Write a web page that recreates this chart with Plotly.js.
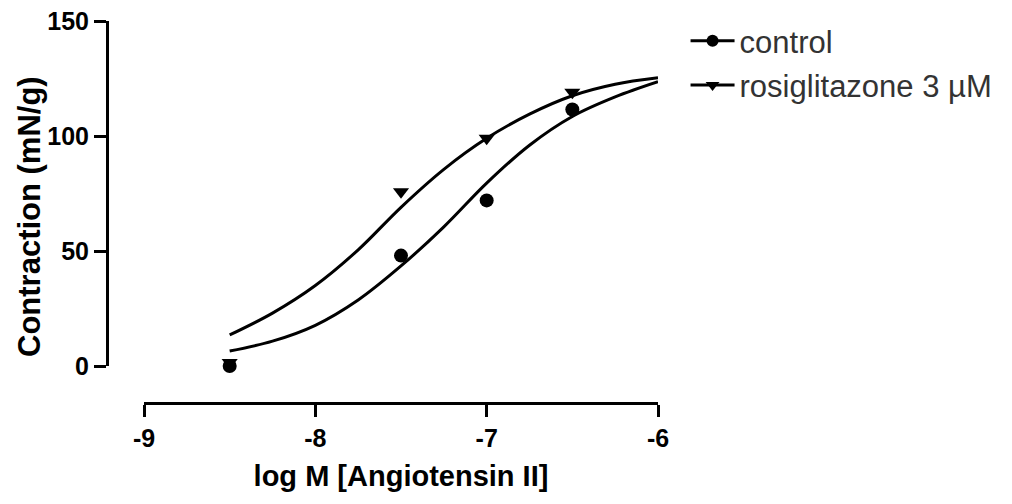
<!DOCTYPE html>
<html>
<head>
<meta charset="utf-8">
<script src="https://cdn.plot.ly/plotly-3.0.1.min.js"></script>
<style>html,body{margin:0;padding:0;background:#fff;}#chart{width:1012px;height:504px;}</style>
</head>
<body>
<div id="chart"></div>
<script>
// Measured data points (log M of Angiotensin II vs contraction, mN/g)
const doseLog = [-8.5, -7.5, -7.0, -6.5];
const controlResp = [0, 48, 72, 111.5];
const rosiResp = [1.5, 75.8, 99, 119];

// Fitted curves
const fitX = [-8.5, -8.25, -8.0, -7.75, -7.5, -7.25, -7.0, -6.75, -6.5, -6.25, -6.0];
const controlFit = [6.5, 10.8, 17.7, 28.7, 43.5, 60.5, 79.5, 96, 108.5, 117, 123.6];
const rosiFit = [13.5, 23, 35, 50.5, 69, 85.5, 99, 109.5, 117.5, 122.5, 125.3];

const seriesNames = ['control', 'rosiglitazone 3 \u00b5M'];
const xTicks = [-9, -8, -7, -6];
const yTicks = [0, 50, 100, 150];
const xTitle = 'log M [Angiotensin II]';
const yTitle = 'Contraction (mN/g)';

const FONT = 'Liberation Sans, Arial, sans-serif';
const lineStyle = {color: '#000', width: 3, shape: 'spline', smoothing: 1};

const traces = [
  {x: fitX, y: controlFit, mode: 'lines', line: lineStyle, showlegend: false, cliponaxis: false, hoverinfo: 'skip'},
  {x: fitX, y: rosiFit, mode: 'lines', line: lineStyle, showlegend: false, cliponaxis: false, hoverinfo: 'skip'},
  {x: doseLog, y: rosiResp, mode: 'markers', marker: {symbol: 'triangle-down', size: 14, color: '#000'}, showlegend: false, cliponaxis: false},
  {x: doseLog, y: controlResp, mode: 'markers', marker: {symbol: 'circle', size: 14, color: '#000'}, showlegend: false, cliponaxis: false},
  {x: [null], y: [null], name: seriesNames[0], mode: 'lines+markers', line: {color: '#000', width: 3}, marker: {symbol: 'circle', size: 12, color: '#000'}, legendgroup: 'a'},
  {x: [null], y: [null], name: seriesNames[1], mode: 'lines+markers', line: {color: '#000', width: 3}, marker: {symbol: 'triangle-down', size: 12, color: '#000'}, legendgroup: 'b'}
];

const axisCommon = {
  showline: true, linecolor: '#000', linewidth: 3,
  ticks: 'outside', ticklen: 12, tickwidth: 3, tickcolor: '#000',
  showgrid: false, zeroline: false, anchor: 'free', position: 0,
  tickfont: {family: FONT, size: 25, color: '#000', weight: 'bold'},
  fixedrange: true
};

const layout = {
  width: 1012, height: 504,
  margin: {l: 107, r: 354, t: 21, b: 101, pad: 0},
  paper_bgcolor: '#fff', plot_bgcolor: '#fff',
  showlegend: true,
  xaxis: Object.assign({}, axisCommon, {
    domain: [37 / 551, 1], range: [-9, -6], tickmode: 'array', tickvals: xTicks, ticktext: xTicks.map(String),
    title: {text: xTitle, font: {family: FONT, size: 29, color: '#000', weight: 'bold'}, standoff: 14}
  }),
  yaxis: Object.assign({}, axisCommon, {
    domain: [37 / 382, 1], range: [0, 150], tickmode: 'array', tickvals: yTicks, ticktext: yTicks.map(String)
  }),
  annotations: [{
    text: yTitle, textangle: -90, showarrow: false,
    xref: 'paper', yref: 'paper', x: (29 - 107) / 551, y: (403 - 217) / 382,
    xanchor: 'center', yanchor: 'middle',
    font: {family: FONT, size: 31, color: '#000', weight: 'bold'}
  }],
  legend: {
    x: 1.050, y: 1.018, xanchor: 'left', yanchor: 'top',
    font: {family: FONT, size: 31, color: '#333'},
    bgcolor: 'rgba(0,0,0,0)', borderwidth: 0, tracegroupgap: 1, itemwidth: 44
  }
};

Plotly.newPlot('chart', traces, layout, {displayModeBar: false, staticPlot: true});
</script>
</body>
</html>
